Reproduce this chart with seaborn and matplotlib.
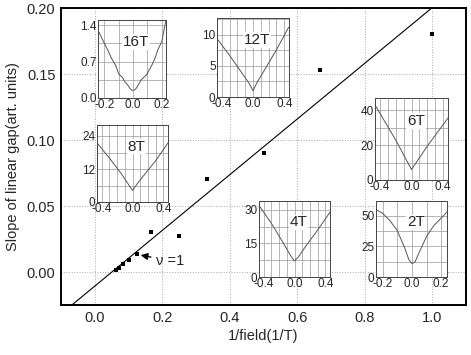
import numpy as np
import pandas as pd
import seaborn as sns
import matplotlib.pyplot as plt
from matplotlib.ticker import MultipleLocator

# main data: 1/B vs slope of linear gap
inv_field = [0.0625, 0.0714, 0.0833, 0.1, 0.125, 0.167, 0.25, 0.333, 0.5, 0.667, 1.0]
slope = [0.0015, 0.0033, 0.0058, 0.0093, 0.0134, 0.030, 0.0275, 0.0705, 0.0904, 0.153, 0.1805]

fit_x = [-0.1, 1.1]
fit_slope = 0.211
fit_icpt = -0.0107

# inset curves (bias vs gap)
x16 = [-0.245, -0.2, -0.17, -0.15, -0.12, -0.1, -0.075, -0.057, -0.04, -0.023, -0.01, 0.0, 0.012, 0.023, 0.04, 0.057, 0.075, 0.092, 0.115, 0.138, 0.155, 0.172, 0.2, 0.23]
y16 = [1.30, 1.05, 0.88, 0.76, 0.62, 0.46, 0.40, 0.31, 0.26, 0.19, 0.15, 0.15, 0.16, 0.19, 0.27, 0.35, 0.40, 0.44, 0.55, 0.67, 0.78, 0.92, 1.08, 1.5]
x12 = [-0.455, -0.3, -0.15, -0.05, 0.0, 0.05, 0.15, 0.3, 0.455]
y12 = [9.3, 6.7, 4.0, 2.2, 1.0, 2.3, 4.4, 7.6, 11.2]
x8 = [-0.46, -0.3, -0.15, -0.05, 0.0, 0.05, 0.15, 0.3, 0.46]
y8 = [21.5, 16.0, 10.5, 6.3, 4.2, 6.2, 9.8, 15.0, 21.5]
x6 = [-0.46, -0.2, 0.0, 0.2, 0.46]
y6 = [43.0, 23.0, 6.0, 19.5, 35.5]
x4 = [-0.46, -0.3, -0.15, -0.05, 0.0, 0.05, 0.15, 0.3, 0.46]
y4 = [32.0, 24.0, 15.5, 9.5, 7.2, 9.0, 14.0, 21.0, 29.0]
x2 = [-0.245, -0.2, -0.15, -0.1, -0.05, -0.02, 0.0, 0.02, 0.05, 0.1, 0.15, 0.2, 0.24]
y2 = [55, 52, 46, 38, 24, 14, 11, 12, 20, 33, 42, 48, 53]

sns.set_style("white")
plt.rcParams['font.family'] = ['Liberation Sans', 'DejaVu Sans']

fig = plt.figure(figsize=(4.71, 3.55), dpi=100)
W, H = 471.0, 355.0
ax = fig.add_axes([61 / W, 1 - 305 / H, 405 / W, 297 / H])

df = pd.DataFrame({'x': inv_field, 'y': slope})
line_df = pd.DataFrame({'x': fit_x, 'y': [fit_slope * v + fit_icpt for v in fit_x]})
sns.lineplot(data=line_df, x='x', y='y', ax=ax, color='black', lw=0.8)
sns.scatterplot(data=df, x='x', y='y', ax=ax, color='black', marker='s', s=11, linewidth=0)

ax.set_xlim(-0.1, 1.1)
ax.set_ylim(-0.025, 0.2)
ax.set_xticks([0.0, 0.2, 0.4, 0.6, 0.8, 1.0])
ax.set_yticks([0.0, 0.05, 0.10, 0.15, 0.20])
ax.xaxis.set_major_formatter(plt.FormatStrFormatter('%.1f'))
ax.yaxis.set_major_formatter(plt.FormatStrFormatter('%.2f'))
ax.tick_params(direction='in', length=5, width=1, labelsize=10.5, pad=4)
ax.grid(True, ls=':', color='#aaaaaa', lw=0.7)
for sp in ax.spines.values():
    sp.set_linewidth(1.4)
    sp.set_color('black')
ax.set_xlabel('1/field(1/T)', fontsize=10.5, labelpad=3)
ax.set_ylabel('Slope of linear gap(art. units)', fontsize=10.5, labelpad=5)

ax.annotate('ν =1', xy=(0.128, 0.0132), xytext=(0.18, 0.0085),
            fontsize=10.5, va='center', ha='left',
            arrowprops=dict(arrowstyle='-|>', color='black', lw=1, mutation_scale=10,
                            shrinkA=1, shrinkB=2))


def inset(px, xs, ys, xlim, ylim, xt, yt, ygrid, label, yfmt):
    l, r, t, b = px
    a = fig.add_axes([l / W, 1 - b / H, (r - l) / W, (b - t) / H])
    sns.lineplot(x=xs, y=ys, ax=a, color='#555555', lw=0.7)
    a.set_xlim(*xlim)
    a.set_ylim(*ylim)
    a.set_xticks(xt)
    a.set_yticks(yt)
    a.xaxis.set_minor_locator(MultipleLocator(0.1))
    a.yaxis.set_minor_locator(MultipleLocator(ygrid))
    a.xaxis.set_major_formatter(plt.FormatStrFormatter('%.1f'))
    a.yaxis.set_major_formatter(plt.FormatStrFormatter(yfmt))
    a.grid(True, which='both', color='#999999', lw=0.5)
    a.tick_params(which='both', length=0, labelsize=8.5, pad=1)
    a.set_xlabel('')
    a.set_ylabel('')
    for sp in a.spines.values():
        sp.set_linewidth(0.7)
        sp.set_color('#444444')
    a.text(0.56, 0.72, label, transform=a.transAxes, fontsize=11, ha='center', va='center',
           bbox=dict(facecolor='white', edgecolor='none', pad=0.5))
    return a


inset((98, 166, 20, 98), x16, y16, (-0.245, 0.23), (0, 1.5), [-0.2, 0.0, 0.2], [0.0, 0.7, 1.4], 0.35, '16T', '%.1f')
inset((217, 289, 18, 97), x12, y12, (-0.46, 0.46), (0, 12.7), [-0.4, 0.0, 0.4], [0, 5, 10], 2.5, '12T', '%d')
inset((97, 168, 125, 202), x8, y8, (-0.46, 0.46), (0, 28), [-0.4, 0.0, 0.4], [0, 12, 24], 6, '8T', '%d')
inset((375, 448, 98, 180), x6, y6, (-0.46, 0.46), (0, 47), [-0.4, 0.0, 0.4], [0, 20, 40], 10, '6T', '%d')
inset((259, 330, 201, 277), x4, y4, (-0.46, 0.46), (0, 34), [-0.4, 0.0, 0.4], [0, 15, 30], 7.5, '4T', '%d')
inset((376, 447, 201, 277), x2, y2, (-0.245, 0.24), (0, 62), [-0.2, 0.0, 0.2], [0, 25, 50], 12.5, '2T', '%d')

fig.savefig('out.png', dpi=100)
